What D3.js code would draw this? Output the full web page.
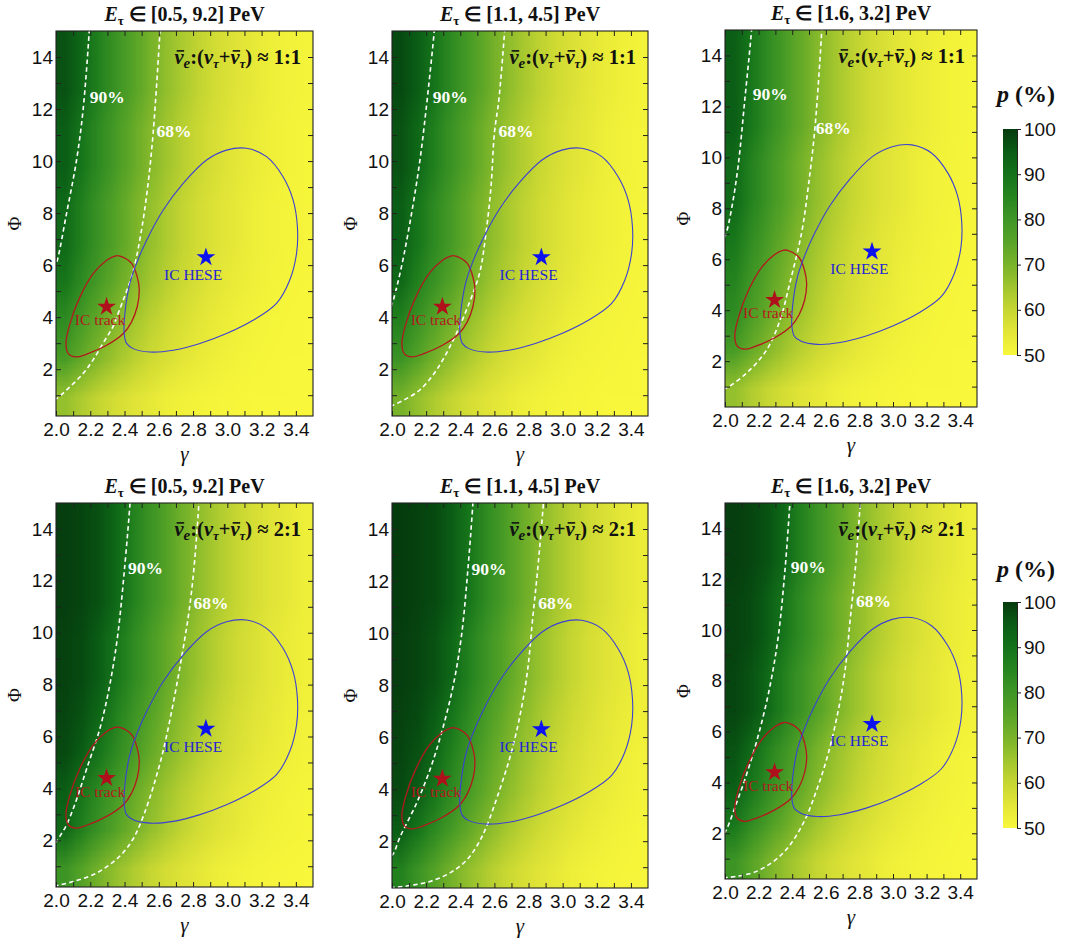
<!DOCTYPE html>
<html><head><meta charset="utf-8">
<script src="https://cdn.jsdelivr.net/npm/d3@7"></script>
<style>body{margin:0;background:#fff}svg{display:block}</style>
</head><body>
<svg id="chart" width="1065" height="945"></svg>
<script>
// ---------------- DATA ----------------
const energyRanges = ["[0.5, 9.2]", "[1.1, 4.5]", "[1.6, 3.2]"];
const flavorRatios = ["1:1", "2:1"];
const gammaTicks = [2.0, 2.1, 2.2, 2.3, 2.4, 2.5, 2.6, 2.7, 2.8, 2.9, 3.0, 3.1, 3.2, 3.3, 3.4];
const gammaLabels = ["2.0", "2.2", "2.4", "2.6", "2.8", "3.0", "3.2", "3.4"];
const phiTicks = [1, 2, 3, 4, 5, 6, 7, 8, 9, 10, 11, 12, 13, 14];
const phiLabels = [2, 4, 6, 8, 10, 12, 14];
const colorbarTicks = [50, 60, 70, 80, 90, 100];
const gammaDomain = [2.0, 3.5];
const phiDomain = [0.2, 15];

// heat-map grid (cell centres), p in %
const gridGamma = [2.05, 2.15, 2.25, 2.35, 2.45, 2.55, 2.65, 2.75, 2.85, 2.95, 3.05, 3.15, 3.25, 3.35, 3.45];
const gridPhi = [14.26, 12.78, 11.30, 9.82, 8.34, 6.86, 5.38, 3.90, 2.42, 0.94];

const p_11_a = [
 [96.5,92,86,80.5,75.5,70.5,66.5,63,60,57.5,55.5,54,52.5,51.5,51],
 [96.5,92,86,80.5,75.5,70.5,66.5,63,60,57.5,55.5,54,52.5,51.5,51],
 [94.5,89,83.2,78,73,68.4,64.7,61.5,58.7,56.5,54.7,53.2,52,51.2,50.7],
 [94.5,89,83.2,78,73,68.4,64.7,61.5,58.7,56.5,54.7,53.2,52,51.2,50.7],
 [92,86,80.5,75.5,70.5,66.5,63,60,57.5,55.5,54,52.5,51.5,51,50.5],
 [92,86,80.5,75.5,70.5,66.5,63,60,57.5,55.5,54,52.5,51.5,51,50.5],
 [89,83.2,78,73,68.4,64.7,61.5,58.7,56.5,54.7,53.2,52,51.2,50.7,50.3],
 [83.2,78,73,68.4,64.7,61.5,58.7,56.5,54.7,53.2,52,51.2,50.7,50.3,50],
 [78,73,68.4,64.7,61.5,58.7,56.5,54.7,53.2,52,51.2,50.7,50.3,50,50],
 [66.5,63,60,57.5,55.5,54,52.5,51.5,51,50.5,50.2,50,50,50,50]];
const p_11_b = [
 [97.8,94.5,89,83.2,78,73,68.4,64.7,61.5,58.7,56.5,54.7,53.2,52,51.2],
 [97.8,94.5,89,83.2,78,73,68.4,64.7,61.5,58.7,56.5,54.7,53.2,52,51.2],
 [96.5,92,86,80.5,75.5,70.5,66.5,63,60,57.5,55.5,54,52.5,51.5,51],
 [96.5,92,86,80.5,75.5,70.5,66.5,63,60,57.5,55.5,54,52.5,51.5,51],
 [94.5,89,83.2,78,73,68.4,64.7,61.5,58.7,56.5,54.7,53.2,52,51.2,50.7],
 [94.5,89,83.2,78,73,68.4,64.7,61.5,58.7,56.5,54.7,53.2,52,51.2,50.7],
 [92,86,80.5,75.5,70.5,66.5,63,60,57.5,55.5,54,52.5,51.5,51,50.5],
 [86,80.5,75.5,70.5,66.5,63,60,57.5,55.5,54,52.5,51.5,51,50.5,50.2],
 [80.5,75.5,70.5,66.5,63,60,57.5,55.5,54,52.5,51.5,51,50.5,50.2,50],
 [70.5,66.5,63,60,57.5,55.5,54,52.5,51.5,51,50.5,50.2,50,50,50]];
const p_11_c = [
 [94.5,89,83.2,78,73,68.4,64.7,61.5,58.7,56.5,54.7,53.2,52,51.2,50.7],
 [94.5,89,83.2,78,73,68.4,64.7,61.5,58.7,56.5,54.7,53.2,52,51.2,50.7],
 [94.5,89,83.2,78,73,68.4,64.7,61.5,58.7,56.5,54.7,53.2,52,51.2,50.7],
 [92,86,80.5,75.5,70.5,66.5,63,60,57.5,55.5,54,52.5,51.5,51,50.5],
 [92,86,80.5,75.5,70.5,66.5,63,60,57.5,55.5,54,52.5,51.5,51,50.5],
 [89,83.2,78,73,68.4,64.7,61.5,58.7,56.5,54.7,53.2,52,51.2,50.7,50.3],
 [86,80.5,75.5,70.5,66.5,63,60,57.5,55.5,54,52.5,51.5,51,50.5,50.2],
 [83.2,78,73,68.4,64.7,61.5,58.7,56.5,54.7,53.2,52,51.2,50.7,50.3,50],
 [78,73,68.4,64.7,61.5,58.7,56.5,54.7,53.2,52,51.2,50.7,50.3,50,50],
 [66.5,63,60,57.5,55.5,54,52.5,51.5,51,50.5,50.2,50,50,50,50]];
const p_21_a = [
 [99.5,98.5,96.5,92,86,80.5,75.5,70.5,66.5,63,60,57.5,55.5,54,52.5],
 [99.5,98.5,96.5,92,86,80.5,75.5,70.5,66.5,63,60,57.5,55.5,54,52.5],
 [99.5,98.5,96.5,92,86,80.5,75.5,70.5,66.5,63,60,57.5,55.5,54,52.5],
 [99,97.8,94.5,89,83.2,78,73,68.4,64.7,61.5,58.7,56.5,54.7,53.2,52],
 [99,97.8,94.5,89,83.2,78,73,68.4,64.7,61.5,58.7,56.5,54.7,53.2,52],
 [98.5,96.5,92,86,80.5,75.5,70.5,66.5,63,60,57.5,55.5,54,52.5,51.5],
 [97.8,94.5,89,83.2,78,73,68.4,64.7,61.5,58.7,56.5,54.7,53.2,52,51.2],
 [94.5,89,83.2,78,73,68.4,64.7,61.5,58.7,56.5,54.7,53.2,52,51.2,50.7],
 [92,86,80.5,75.5,70.5,66.5,63,60,57.5,55.5,54,52.5,51.5,51,50.5],
 [80.5,75.5,70.5,66.5,63,60,57.5,55.5,54,52.5,51.5,51,50.5,50.2,50]];
const p_21_b = [
 [99.8,99,97.8,94.5,89,83.2,78,73,68.4,64.7,61.5,58.7,56.5,54.7,53.2],
 [99.8,99,97.8,94.5,89,83.2,78,73,68.4,64.7,61.5,58.7,56.5,54.7,53.2],
 [99.8,99,97.8,94.5,89,83.2,78,73,68.4,64.7,61.5,58.7,56.5,54.7,53.2],
 [99.5,98.5,96.5,92,86,80.5,75.5,70.5,66.5,63,60,57.5,55.5,54,52.5],
 [99.5,98.5,96.5,92,86,80.5,75.5,70.5,66.5,63,60,57.5,55.5,54,52.5],
 [99,97.8,94.5,89,83.2,78,73,68.4,64.7,61.5,58.7,56.5,54.7,53.2,52],
 [98.5,96.5,92,86,80.5,75.5,70.5,66.5,63,60,57.5,55.5,54,52.5,51.5],
 [97.8,94.5,89,83.2,78,73,68.4,64.7,61.5,58.7,56.5,54.7,53.2,52,51.2],
 [94.5,89,83.2,78,73,68.4,64.7,61.5,58.7,56.5,54.7,53.2,52,51.2,50.7],
 [86,80.5,75.5,70.5,66.5,63,60,57.5,55.5,54,52.5,51.5,51,50.5,50.2]];
const p_21_c = [
 [99.5,98.5,96.5,92,86,80.5,75.5,70.5,66.5,63,60,57.5,55.5,54,52.5],
 [99.5,98.5,96.5,92,86,80.5,75.5,70.5,66.5,63,60,57.5,55.5,54,52.5],
 [99,97.8,94.5,89,83.2,78,73,68.4,64.7,61.5,58.7,56.5,54.7,53.2,52],
 [99,97.8,94.5,89,83.2,78,73,68.4,64.7,61.5,58.7,56.5,54.7,53.2,52],
 [98.5,96.5,92,86,80.5,75.5,70.5,66.5,63,60,57.5,55.5,54,52.5,51.5],
 [98.5,96.5,92,86,80.5,75.5,70.5,66.5,63,60,57.5,55.5,54,52.5,51.5],
 [96.5,92,86,80.5,75.5,70.5,66.5,63,60,57.5,55.5,54,52.5,51.5,51],
 [94.5,89,83.2,78,73,68.4,64.7,61.5,58.7,56.5,54.7,53.2,52,51.2,50.7],
 [89,83.2,78,73,68.4,64.7,61.5,58.7,56.5,54.7,53.2,52,51.2,50.7,50.3],
 [80.5,75.5,70.5,66.5,63,60,57.5,55.5,54,52.5,51.5,51,50.5,50.2,50]];

// p = 90% and p = 68% contours [gamma, Phi]
const c90_11_a = [[1.99,5.85],[2.008,6.19],[2.062,8.0],[2.12,10.04],[2.158,11.96],[2.193,14.9],[2.196,15.3]];
const c68_11_a = [[1.99,0.83],[2.004,0.87],[2.081,1.32],[2.158,1.83],[2.216,2.35],[2.274,2.99],[2.332,3.63],[2.37,4.27],[2.447,5.69],[2.496,7.23],[2.535,9.0],[2.567,11.08],[2.606,14.9],[2.609,15.3]];
const c90_11_b = [[1.995,4.4],[2.008,4.66],[2.056,5.95],[2.115,8.0],[2.163,10.0],[2.2,12.0],[2.247,14.97],[2.25,15.3]];
const c68_11_b = [[1.99,0.58],[2.008,0.62],[2.08,0.85],[2.163,1.2],[2.26,1.96],[2.358,3.11],[2.436,4.27],[2.513,5.69],[2.55,7.2],[2.58,9.0],[2.60,11.07],[2.626,12.35],[2.66,15.0],[2.663,15.3]];
const c90_11_c = [[1.995,6.85],[2.008,7.04],[2.038,7.94],[2.078,9.65],[2.118,12.27],[2.158,15],[2.16,15.3]];
const c68_11_c = [[1.99,0.9],[2.008,0.94],[2.128,1.53],[2.247,2.43],[2.327,3.6],[2.386,5.07],[2.456,7.04],[2.496,8.86],[2.536,11.2],[2.576,15],[2.578,15.3]];
const c90_21_a = [[1.995,1.9],[2.004,1.97],[2.023,2.16],[2.062,2.6],[2.12,3.57],[2.178,4.74],[2.255,6.28],[2.313,7.96],[2.36,9.89],[2.40,12.47],[2.432,15],[2.434,15.3]];
const c68_21_a = [[1.99,0.22],[2.004,0.25],[2.10,0.41],[2.216,0.67],[2.313,1.06],[2.39,1.51],[2.448,2.03],[2.486,2.54],[2.544,3.57],[2.62,5.3],[2.685,7.31],[2.735,9.12],[2.776,10.8],[2.805,12.47],[2.834,15],[2.836,15.3]];
const c90_21_b = [[1.995,1.45],[2.008,1.52],[2.047,2.16],[2.144,3.46],[2.222,4.74],[2.29,6.16],[2.358,7.96],[2.407,9.89],[2.445,12.47],[2.474,15],[2.476,15.3]];
const c68_21_b = [[1.99,0.21],[2.027,0.23],[2.13,0.32],[2.241,0.49],[2.35,0.82],[2.436,1.26],[2.505,1.9],[2.553,2.55],[2.63,3.96],[2.698,5.38],[2.757,7.06],[2.795,8.6],[2.824,10.54],[2.854,12.47],[2.887,15],[2.889,15.3]];
const c90_21_c = [[1.995,2.0],[2.008,2.13],[2.068,3.18],[2.137,4.49],[2.207,6.07],[2.267,7.77],[2.317,9.74],[2.357,12.36],[2.386,15],[2.388,15.3]];
const c68_21_c = [[1.99,0.25],[2.03,0.27],[2.188,0.5],[2.346,1.22],[2.466,2.4],[2.546,3.71],[2.615,5.15],[2.675,6.86],[2.715,8.43],[2.745,10.4],[2.775,12.36],[2.805,15],[2.807,15.3]];

// IceCube contours and best fits [gamma, Phi]
const trackContour = [[2.373,6.35],[2.441,6.07],[2.474,5.55],[2.486,5.04],[2.474,4.40],[2.441,3.82],[2.393,3.37],[2.296,2.92],[2.179,2.58],[2.117,2.47],[2.072,2.60],[2.058,2.99],[2.082,3.76],[2.14,4.78],[2.218,5.68],[2.296,6.19],[2.344,6.35]];
const heseContour = [[3.112,10.49],[3.229,10.17],[3.325,9.40],[3.384,8.5],[3.409,7.47],[3.404,6.45],[3.364,5.42],[3.287,4.53],[3.15,3.88],[2.995,3.37],[2.84,2.99],[2.684,2.73],[2.548,2.66],[2.451,2.79],[2.412,2.99],[2.398,3.37],[2.402,4.14],[2.431,5.30],[2.47,6.07],[2.529,6.96],[2.626,8.12],[2.742,9.14],[2.879,10.04],[2.995,10.42]];
const trackBest = [2.295, 4.4];
const heseBest = [2.875, 6.3];

const panels = [
  {range: 0, ratio: 0, p: p_11_a, c90: c90_11_a, c68: c68_11_a},
  {range: 1, ratio: 0, p: p_11_b, c90: c90_11_b, c68: c68_11_b},
  {range: 2, ratio: 0, p: p_11_c, c90: c90_11_c, c68: c68_11_c},
  {range: 0, ratio: 1, p: p_21_a, c90: c90_21_a, c68: c68_21_a},
  {range: 1, ratio: 1, p: p_21_b, c90: c90_21_b, c68: c68_21_b},
  {range: 2, ratio: 1, p: p_21_c, c90: c90_21_c, c68: c68_21_c}
];

// ---------------- LAYOUT / STYLE ----------------
const layout = [
  {L:56, R:313, T:31, B:416, lab90:2.299, lab68:2.688},
  {L:392, R:648, T:31, B:416, lab90:2.341, lab68:2.727},
  {L:725, R:977, T:30, B:407, lab90:2.27, lab68:2.645},
  {L:56, R:313, T:503, B:887, lab90:2.523, lab68:2.904},
  {L:392, R:648, T:503, B:888, lab90:2.569, lab68:2.959},
  {L:725, R:977, T:503, B:879, lab90:2.496, lab68:2.884}
];
const colorbars = [{x:1003, w:14, T:129, B:355, titleY:102}, {x:1003, w:14, T:602, B:828, titleY:577}];
const colorStops = [50,55,60,65,70,75,80,85,90,95,100];
const colorRange = ["#f8f73b","#e3e637","#c6d632","#a0c52e","#79b32a","#58a427","#3e9626","#27851f","#13721a","#0a5c15","#053b0e"];
const serif = "'Liberation Serif','Times New Roman',serif";
const sans = "'Liberation Sans',Arial,sans-serif";
const tickFont = 19;

const color = d3.scaleLinear().domain(colorStops).range(colorRange).clamp(true);
const svg = d3.select("#chart");
const defs = svg.append("defs");

function heatImage(grid) {
  const nx = grid[0].length, ny = grid.length;
  const cv = document.createElement("canvas");
  cv.width = nx; cv.height = ny;
  const ctx = cv.getContext("2d");
  const img = ctx.createImageData(nx, ny);
  grid.forEach((row, j) => row.forEach((v, i) => {
    const c = d3.rgb(color(v)); const k = 4 * (j * nx + i);
    img.data[k] = c.r; img.data[k+1] = c.g; img.data[k+2] = c.b; img.data[k+3] = 255;
  }));
  ctx.putImageData(img, 0, 0);
  return cv.toDataURL();
}

panels.forEach((pn, idx) => {
  const lo = layout[idx];
  const x = d3.scaleLinear().domain(gammaDomain).range([lo.L, lo.R]);
  const y = d3.scaleLinear().domain(phiDomain).range([lo.B, lo.T]);
  const g = svg.append("g");
  const clipId = "clip" + idx;
  defs.append("clipPath").attr("id", clipId).append("rect")
    .attr("x", lo.L).attr("y", lo.T).attr("width", lo.R - lo.L).attr("height", lo.B - lo.T);

  // heat map
  const dg = gridGamma[1] - gridGamma[0], dp = gridPhi[0] - gridPhi[1];
  const g0 = gridGamma[0] - dg / 2, g1 = gridGamma[gridGamma.length - 1] + dg / 2;
  const p0 = gridPhi[0] + dp / 2, p1 = gridPhi[gridPhi.length - 1] - dp / 2;
  g.append("image").attr("clip-path", `url(#${clipId})`)
    .attr("href", heatImage(pn.p))
    .attr("x", x(g0)).attr("y", y(p0))
    .attr("width", x(g1) - x(g0)).attr("height", y(p1) - y(p0))
    .attr("preserveAspectRatio", "none")
    .style("image-rendering", "auto");

  const plot = g.append("g").attr("clip-path", `url(#${clipId})`);
  const line = d3.line().x(d => x(d[0])).y(d => y(d[1])).curve(d3.curveCatmullRom.alpha(0.5));
  const closed = d3.line().x(d => x(d[0])).y(d => y(d[1])).curve(d3.curveCatmullRomClosed.alpha(0.5));
  [pn.c90, pn.c68].forEach(c => plot.append("path").attr("d", line(c))
    .attr("fill", "none").attr("stroke", "#fff").attr("stroke-width", 1.6).attr("stroke-dasharray", "4.5,3.2"));
  plot.append("path").attr("d", closed(trackContour)).attr("fill", "none").attr("stroke", "#b3191e").attr("stroke-width", 1.3);
  plot.append("path").attr("d", closed(heseContour)).attr("fill", "none").attr("stroke", "#3c40d4").attr("stroke-width", 1.1);

  const star = d3.symbol().type(d3.symbolStar).size(110);
  plot.append("path").attr("d", star()).attr("transform", `translate(${x(trackBest[0])},${y(trackBest[1])})`).attr("fill", "#b0101c");
  plot.append("path").attr("d", star()).attr("transform", `translate(${x(heseBest[0])},${y(heseBest[1])})`).attr("fill", "#0c12ee");

  plot.append("text").attr("x", x(2.257)).attr("y", y(3.68)).attr("text-anchor", "middle")
    .attr("font-family", serif).attr("font-size", 15.5).attr("fill", "#b3191e").text("IC track");
  plot.append("text").attr("x", x(2.80)).attr("y", y(5.42)).attr("text-anchor", "middle")
    .attr("font-family", serif).attr("font-size", 15.5).attr("fill", "#2323d8").text("IC HESE");

  plot.append("text").attr("x", x(lo.lab90)).attr("y", y(12.25)).attr("text-anchor", "middle")
    .attr("font-family", serif).attr("font-weight", "bold").attr("font-size", 17.5).attr("fill", "#fff").text("90%");
  plot.append("text").attr("x", x(lo.lab68)).attr("y", y(10.92)).attr("text-anchor", "middle")
    .attr("font-family", serif).attr("font-weight", "bold").attr("font-size", 17.5).attr("fill", "#fff").text("68%");

  // flavour ratio annotation
  const fs = 20.5;
  const rt = g.append("text").attr("x", lo.R - 12).attr("y", lo.T + 33).attr("text-anchor", "end")
    .attr("font-family", serif).attr("font-weight", "bold").attr("font-size", fs).attr("fill", "#111");
  rt.append("tspan").attr("font-style", "italic").text("ν");
  rt.append("tspan").attr("font-style", "italic").attr("font-size", 15).attr("dy", 4).text("e");
  rt.append("tspan").attr("dy", -4).text(":(");
  rt.append("tspan").attr("font-style", "italic").text("ν");
  rt.append("tspan").attr("font-style", "italic").attr("font-size", 13).attr("dy", 4).text("τ");
  rt.append("tspan").attr("dy", -4).text("+");
  rt.append("tspan").attr("font-style", "italic").text("ν");
  rt.append("tspan").attr("font-style", "italic").attr("font-size", 13).attr("dy", 4).text("τ");
  rt.append("tspan").attr("dy", -4).text(") \u2248 " + flavorRatios[pn.ratio]);
  // bars over the anti-neutrino symbols (characters 0 and 7)
  [0, 7].forEach(ci => {
    const e = rt.node().getExtentOfChar(ci);
    const yb = lo.T + 33 - 0.64 * fs;
    g.append("line").attr("x1", e.x + 2.2).attr("x2", e.x + e.width + 0.6)
      .attr("y1", yb).attr("y2", yb).attr("stroke", "#111").attr("stroke-width", 1.6);
  });

  // title
  const tt = g.append("text").attr("x", (lo.L + lo.R) / 2).attr("y", lo.T - 10).attr("text-anchor", "middle")
    .attr("font-family", serif).attr("font-weight", "bold").attr("font-size", 20).attr("fill", "#111");
  tt.append("tspan").attr("font-style", "italic").text("E");
  tt.append("tspan").attr("font-size", 13).attr("dy", 4).text("τ");
  tt.append("tspan").attr("dy", -4).text(" \u2208 " + energyRanges[pn.range] + " PeV");

  // axes
  const axStyle = sel => {
    sel.select(".domain").remove();
    sel.selectAll("line").attr("stroke", "#222").attr("stroke-width", 1);
    sel.selectAll("text").attr("font-family", sans).attr("font-size", tickFont).attr("fill", "#111");
  };
  g.append("g").attr("transform", `translate(0,${lo.B})`)
    .call(d3.axisBottom(x).tickValues(gammaTicks).tickSizeInner(-5).tickSizeOuter(0).tickPadding(7)
      .tickFormat(d => { const s = d3.format(".1f")(d); return gammaLabels.includes(s) ? s : ""; }))
    .call(axStyle);
  g.append("g").attr("transform", `translate(0,${lo.T})`)
    .call(d3.axisTop(x).tickValues(gammaTicks).tickSizeInner(-5).tickSizeOuter(0).tickFormat(""))
    .call(axStyle);
  g.append("g").attr("transform", `translate(${lo.L},0)`)
    .call(d3.axisLeft(y).tickValues(phiTicks).tickSizeInner(-5).tickSizeOuter(0).tickPadding(3)
      .tickFormat(d => phiLabels.includes(d) ? d : ""))
    .call(axStyle);
  g.append("g").attr("transform", `translate(${lo.R},0)`)
    .call(d3.axisRight(y).tickValues(phiTicks).tickSizeInner(-5).tickSizeOuter(0).tickFormat(""))
    .call(axStyle);
  g.append("rect").attr("x", lo.L).attr("y", lo.T).attr("width", lo.R - lo.L).attr("height", lo.B - lo.T)
    .attr("fill", "none").attr("stroke", "#222").attr("stroke-width", 1.1);

  // axis titles
  g.append("text").attr("x", (lo.L + lo.R) / 2).attr("y", lo.B + 45).attr("text-anchor", "middle")
    .attr("font-family", serif).attr("font-style", "italic").attr("font-size", 21).attr("fill", "#111").text("γ");
  g.append("text").attr("transform", `translate(${lo.L - 35},${(lo.T + lo.B) / 2}) rotate(-90)`)
    .attr("text-anchor", "middle").attr("font-family", serif).attr("font-size", 19).attr("fill", "#111").text("Φ");
});

// colour bars
const grad = defs.append("linearGradient").attr("id", "cbgrad").attr("x1", 0).attr("y1", 1).attr("x2", 0).attr("y2", 0);
colorStops.forEach(v => grad.append("stop").attr("offset", (v - 50) / 50).attr("stop-color", color(v)));
colorbars.forEach(cb => {
  const s = d3.scaleLinear().domain([50, 100]).range([cb.B, cb.T]);
  const g = svg.append("g");
  g.append("rect").attr("x", cb.x).attr("y", cb.T).attr("width", cb.w).attr("height", cb.B - cb.T).attr("fill", "url(#cbgrad)");
  g.append("g").attr("transform", `translate(${cb.x + cb.w},0)`)
    .call(d3.axisRight(s).tickValues(colorbarTicks).tickSizeInner(4).tickSizeOuter(0).tickPadding(3))
    .call(sel => {
      sel.select(".domain").attr("stroke", "#222");
      sel.selectAll("line").attr("stroke", "#222");
      sel.selectAll("text").attr("font-family", sans).attr("font-size", 19).attr("fill", "#111");
    });
  const t = g.append("text").attr("x", 997).attr("y", cb.titleY).attr("font-family", serif)
    .attr("font-weight", "bold").attr("font-size", 24).attr("fill", "#111");
  t.append("tspan").attr("font-style", "italic").text("p");
  t.append("tspan").text(" (%)");
});
</script>
</body></html>
